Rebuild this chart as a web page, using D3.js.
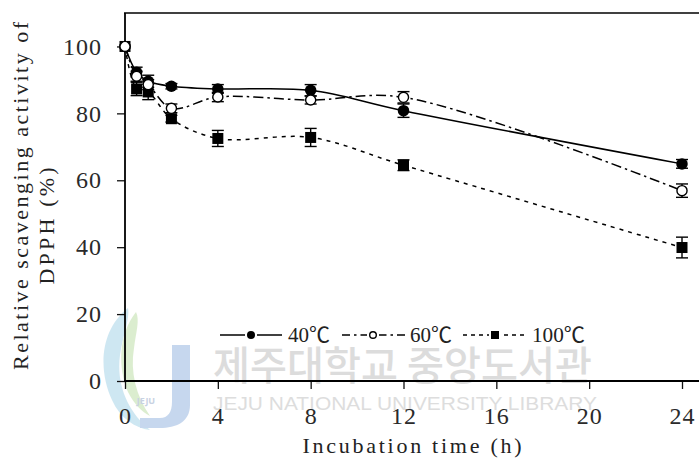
<!DOCTYPE html>
<html>
<head>
<meta charset="utf-8">
<script src="https://cdn.jsdelivr.net/npm/d3@7"></script>
<style>
  html, body { margin: 0; padding: 0; background: #fff; }
  svg { display: block; }
  text { font-family: "Liberation Serif", "DejaVu Serif", serif; fill: #222; }
</style>
</head>
<body>
<svg id="chart" width="699" height="464"></svg>
<script>
// Incubation time points (h)
const hours = [0, 0.5, 1, 2, 4, 8, 12, 24];

// Relative DPPH scavenging activity (%) and standard deviations per temperature
const act40  = [100, 92.3, 89.6, 88.1, 87.3, 86.9, 80.8, 64.9];
const err40  = [0, 1.5, 1.8, 0.8, 1.3, 1.7, 2.0, 1.3];
const act60  = [100, 91.1, 88.6, 81.5, 84.9, 84.0, 84.8, 56.9];
const err60  = [0, 1.5, 1.5, 1.3, 1.4, 1.2, 1.7, 2.0];
const act100 = [100, 87.3, 86.4, 78.4, 72.5, 72.8, 64.5, 39.9];
const err100 = [0, 2.0, 2.3, 1.0, 2.4, 2.7, 1.6, 3.1];

const seriesNames = ["40℃", "60℃", "100℃"];
const xTicks = [0, 4, 8, 12, 16, 20, 24];
const yTicks = [0, 20, 40, 60, 80, 100];

const SERIF = "'Liberation Serif', 'DejaVu Serif', serif";
const svg = d3.select("#chart");
const W = 699;

const x = d3.scaleLinear().domain([0, 24]).range([125, 682]);
const y = d3.scaleLinear().domain([0, 110]).range([381, 13]);

// ---- library watermark (drawn underneath everything) ----
const wm = svg.append("g").attr("class", "watermark");
const logo = wm.append("g").attr("opacity", 0.5);
logo.append("path")
  .attr("d", "M128,308 C100,330 98,370 112,400 C120,418 135,428 150,430 C128,412 116,385 120,355 C123,335 130,318 128,308 Z")
  .attr("fill", "#9fd0e6");
logo.append("path")
  .attr("d", "M136,312 C118,335 118,368 128,392 C134,404 142,412 150,416 C136,396 130,372 134,348 C136,332 140,320 136,312 Z")
  .attr("fill", "#b9dca0");
logo.append("path")
  .attr("d", "M172,345 L190,345 L190,405 C190,422 176,428 160,428 L140,428 L140,418 L160,418 C168,418 172,412 172,402 Z")
  .attr("fill", "#8fb0de");
wm.append("text")
  .attr("x", 146).attr("y", 404)
  .attr("text-anchor", "middle")
  .style("font-family", "'Noto Sans', sans-serif")
  .style("font-size", "9px")
  .style("font-weight", "bold")
  .style("fill", "#c8d2e2")
  .text("JEJU");
wm.append("text")
  .attr("x", 213).attr("y", 380)
  .attr("textLength", 379).attr("lengthAdjust", "spacingAndGlyphs")
  .style("font-family", "'Noto Sans CJK KR', sans-serif")
  .style("font-size", "40px")
  .style("font-weight", "500")
  .style("fill", "#dcdcdc")
  .text("제주대학교 중앙도서관");
wm.append("text")
  .attr("x", 213).attr("y", 410)
  .attr("textLength", 384).attr("lengthAdjust", "spacingAndGlyphs")
  .style("font-family", "'Liberation Sans', sans-serif")
  .style("font-size", "19px")
  .style("fill", "#dddddd")
  .text("JEJU NATIONAL UNIVERSITY  LIBRARY");

// ---- axes ----
const yAxis = d3.axisLeft(y).tickValues(yTicks).tickSize(8).tickSizeOuter(0).tickPadding(15);
const xAxis = d3.axisBottom(x).tickValues(xTicks).tickSize(8).tickSizeOuter(0).tickPadding(18);

const gy = svg.append("g").attr("transform", `translate(${x(0)},0)`).call(yAxis);
const gx = svg.append("g").attr("transform", `translate(0,${y(0)})`).call(xAxis);
[gx, gy].forEach(g => {
  g.attr("font-family", null).attr("font-size", null);
  g.select(".domain").remove();
  g.selectAll(".tick line").attr("stroke", "#111").attr("stroke-width", 1.3);
  g.selectAll(".tick text")
    .style("font-family", SERIF)
    .style("font-size", "24px")
    .style("letter-spacing", "1px")
    .style("fill", "#2a2a2a");
});

// frame lines: left axis, bottom axis, top border
svg.append("line").attr("x1", x(0)).attr("x2", x(0)).attr("y1", y(110)).attr("y2", y(0))
  .attr("stroke", "#000").attr("stroke-width", 1.8);
svg.append("line").attr("x1", x(0) - 1).attr("x2", W).attr("y1", y(0)).attr("y2", y(0))
  .attr("stroke", "#000").attr("stroke-width", 1.8);
svg.append("line").attr("x1", x(0) - 1).attr("x2", W).attr("y1", y(110)).attr("y2", y(110))
  .attr("stroke", "#000").attr("stroke-width", 1.6);

// ---- axis titles ----
svg.append("text")
  .attr("x", 412).attr("y", 453)
  .attr("text-anchor", "middle")
  .attr("textLength", 219).attr("lengthAdjust", "spacing")
  .style("font-size", "22px")
  .text("Incubation time (h)");

svg.append("text")
  .attr("transform", "translate(28,196) rotate(-90)")
  .attr("text-anchor", "middle")
  .attr("textLength", 348).attr("lengthAdjust", "spacing")
  .style("font-size", "22px")
  .text("Relative scavenging activity of");
svg.append("text")
  .attr("transform", "translate(54,226) rotate(-90)")
  .attr("text-anchor", "middle")
  .attr("textLength", 117).attr("lengthAdjust", "spacing")
  .style("font-size", "22px")
  .text("DPPH (%)");

// ---- data series ----
const series = [
  { name: seriesNames[0], vals: act40,  errs: err40,  dash: null,         marker: "filledCircle" },
  { name: seriesNames[1], vals: act60,  errs: err60,  dash: "10,4,2.5,4", marker: "openCircle" },
  { name: seriesNames[2], vals: act100, errs: err100, dash: "4,5",        marker: "square" }
];
series.forEach(s => { s.pts = hours.map((h, i) => ({ h, v: s.vals[i], e: s.errs[i] })); });

const line = d3.line()
  .x(d => x(d.h))
  .y(d => y(d.v))
  .curve(d3.curveCatmullRom.alpha(0.5));

const linesG = svg.append("g");
series.forEach(s => {
  linesG.append("path")
    .datum(s.pts)
    .attr("d", line)
    .attr("fill", "none")
    .attr("stroke", "#000")
    .attr("stroke-width", 1.5)
    .attr("stroke-dasharray", s.dash);
});

function drawMarker(g, type, cx, cy, size) {
  if (type === "filledCircle") {
    g.append("circle").attr("cx", cx).attr("cy", cy).attr("r", size / 2).attr("fill", "#000");
  } else if (type === "openCircle") {
    g.append("circle").attr("cx", cx).attr("cy", cy).attr("r", size / 2 - 0.7)
      .attr("fill", "#fff").attr("stroke", "#000").attr("stroke-width", 1.4);
  } else {
    g.append("rect").attr("x", cx - size / 2).attr("y", cy - size / 2)
      .attr("width", size).attr("height", size).attr("fill", "#000");
  }
}

// draw order: 40℃, 100℃, then open circles on top
const order = [series[0], series[2], series[1]];
const markG = svg.append("g");
order.forEach(s => {
  const g = markG.append("g");
  s.pts.forEach(p => {
    if (p.e > 0) {
      const x0 = x(p.h), yt = y(p.v + p.e), yb = y(p.v - p.e);
      g.append("line").attr("x1", x0).attr("x2", x0).attr("y1", yt).attr("y2", yb)
        .attr("stroke", "#000").attr("stroke-width", 1.4);
      [yt, yb].forEach(yy => g.append("line")
        .attr("x1", x0 - 6).attr("x2", x0 + 6).attr("y1", yy).attr("y2", yy)
        .attr("stroke", "#000").attr("stroke-width", 1.4));
    }
    drawMarker(g, s.marker, x(p.h), y(p.v), s.marker === "square" ? 11 : 11.5);
  });
});

// ---- legend ----
const legendY = 335;
const legendItems = [
  { s: series[0], x1: 220, x2: 282, mx: 251, tx: 288, tl: 42 },
  { s: series[1], x1: 342, x2: 405, mx: 373, tx: 410, tl: 42 },
  { s: series[2], x1: 463, x2: 524, mx: 495, tx: 532, tl: 53 }
];
const legG = svg.append("g");
legendItems.forEach(it => {
  const dash = it.s.marker === "openCircle" ? "8,4,2.5,4" : (it.s.marker === "square" ? "4,4" : null);
  legG.append("line").attr("x1", it.x1).attr("x2", it.mx - 6).attr("y1", legendY).attr("y2", legendY)
    .attr("stroke", "#000").attr("stroke-width", 1.5).attr("stroke-dasharray", dash);
  legG.append("line").attr("x1", it.x2).attr("x2", it.mx + 6).attr("y1", legendY).attr("y2", legendY)
    .attr("stroke", "#000").attr("stroke-width", 1.5).attr("stroke-dasharray", dash);
  drawMarker(legG, it.s.marker, it.mx, legendY, 8);
  legG.append("text")
    .attr("x", it.tx).attr("y", legendY + 7)
    .attr("textLength", it.tl).attr("lengthAdjust", "spacingAndGlyphs")
    .style("font-family", "'Liberation Serif', 'Noto Sans CJK KR', serif")
    .style("font-size", "21px")
    .text(it.s.name);
});
</script>
</body>
</html>
